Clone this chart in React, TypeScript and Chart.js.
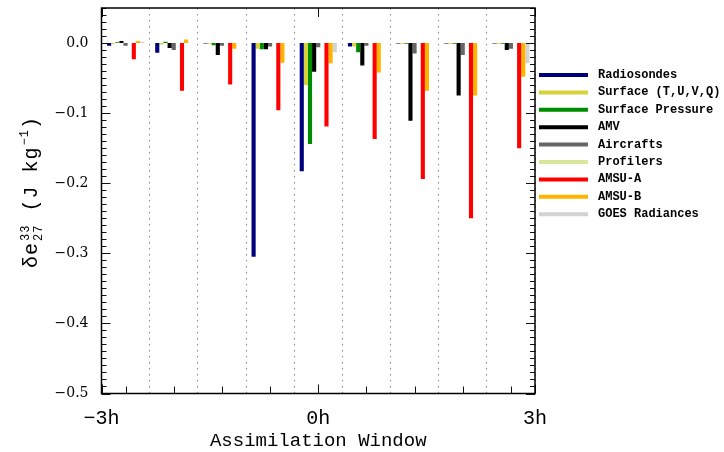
import React, { useEffect, useRef } from 'react';
import { Chart, registerables } from 'chart.js';

Chart.register(...registerables);

// ---------- data ----------
const GROUPS = ['1', '2', '3', '4', '5', '6', '7', '8', '9'];
const X_TICK_VALUES = [-3, 0, 3];
const Y_TICKS = [-0.5, -0.4, -0.3, -0.2, -0.1, 0];

const SERIES_NAMES = [
  'Radiosondes',
  'Surface (T,U,V,Q)',
  'Surface Pressure',
  'AMV',
  'Aircrafts',
  'Profilers',
  'AMSU-A',
  'AMSU-B',
  'GOES Radiances',
];
const SERIES_COLORS = [
  '#00007a',
  '#d6d23a',
  '#008c00',
  '#000000',
  '#666666',
  '#d8e79a',
  '#ff0000',
  '#ffb400',
  '#d3d3d3',
];

const radiosondes = [-0.004, -0.014, -0.0006, -0.305, -0.183, -0.005, -0.0006, -0.0006, -0.0006];
const surface = [-0.001, -0.002, -0.001, -0.008, -0.060, -0.005, -0.001, -0.001, -0.001];
const surfacePressure = [0.001, 0.002, -0.003, -0.009, -0.144, -0.013, -0.001, -0.001, -0.001];
const amv = [0.003, -0.007, -0.017, -0.009, -0.041, -0.032, -0.111, -0.075, -0.010];
const aircrafts = [-0.004, -0.010, -0.004, -0.005, -0.006, -0.004, -0.015, -0.017, -0.008];
const profilers = [0, 0, 0, 0, 0, 0, 0, 0, 0];
const amsuA = [-0.023, -0.068, -0.059, -0.096, -0.119, -0.137, -0.194, -0.250, -0.150];
const amsuB = [0.003, 0.005, -0.008, -0.028, -0.029, -0.042, -0.068, -0.075, -0.048];
const goes = [0.002, 0, 0, 0, -0.013, 0, 0, 0, -0.029];

const SERIES_VALUES = [radiosondes, surface, surfacePressure, amv, aircrafts, profilers, amsuA, amsuB, goes];

const MINUS = '\u2212';
const MONO = '"Liberation Mono", "DejaVu Sans Mono", monospace';
const SERIF = '"DejaVu Serif", serif';

// ---------- plugins ----------
const idlFrame = {
  id: 'idlFrame',
  afterDraw(chart: any) {
    const { ctx, chartArea: a, scales } = chart;
    const y = scales.y;
    const x = scales.x;
    const xt = scales.xt;
    const line = (x1: number, y1: number, x2: number, y2: number) => {
      ctx.beginPath();
      ctx.moveTo(x1, y1);
      ctx.lineTo(x2, y2);
      ctx.stroke();
    };
    ctx.save();
    ctx.strokeStyle = '#111';
    ctx.lineWidth = 1;
    // y ticks (major every 0.1, minor every 0.01), inward on both sides
    for (let k = -50; k <= 5; k++) {
      const py = Math.round(y.getPixelForValue(k / 100)) + 0.5;
      const len = k % 10 === 0 ? 9 : 5;
      line(a.left, py, a.left + len, py);
      line(a.right, py, a.right - len, py);
    }
    // bottom minor ticks at group centers
    GROUPS.forEach((_, i) => {
      const px = Math.round(x.getPixelForValue(i)) + 0.5;
      line(px, a.bottom, px, a.bottom - 7);
    });
    // major ticks
    X_TICK_VALUES.forEach((v) => {
      const px = Math.round(xt.getPixelForValue(v)) + 0.5;
      line(px, a.bottom, px, a.bottom - 9);
      line(px, a.top, px, a.top + 9);
    });
    ctx.lineWidth = 1.5;
    ctx.strokeStyle = '#000';
    ctx.strokeRect(a.left, a.top, a.right - a.left, a.bottom - a.top);
    ctx.restore();
  },
};

const idlLegend = {
  id: 'idlLegend',
  afterDraw(chart: any) {
    const { ctx, chartArea: a } = chart;
    ctx.save();
    const x0 = a.right + 4;
    const x1 = a.right + 53;
    const tx = a.right + 63;
    const y0 = 75;
    const dy = 17.4;
    chart.data.datasets.forEach((ds: any, i: number) => {
      const yy = y0 + i * dy;
      ctx.strokeStyle = ds.backgroundColor;
      ctx.lineWidth = 4;
      ctx.beginPath();
      ctx.moveTo(x0, yy);
      ctx.lineTo(x1, yy);
      ctx.stroke();
      ctx.fillStyle = '#000';
      ctx.font = `bold 12px ${MONO}`;
      ctx.textBaseline = 'middle';
      ctx.textAlign = 'left';
      ctx.fillText(ds.label, tx, yy);
    });
    ctx.restore();
  },
};

const yTitle = {
  id: 'yTitle',
  afterDraw(chart: any) {
    const { ctx } = chart;
    ctx.save();
    ctx.translate(37, 192);
    ctx.rotate(-Math.PI / 2);
    ctx.fillStyle = '#000';
    ctx.textBaseline = 'alphabetic';
    ctx.textAlign = 'left';
    try {
      (ctx as any).letterSpacing = '1px';
    } catch (e) {
      /* ignore */
    }
    const big = `20px ${MONO}`;
    const small = `12px ${MONO}`;
    ctx.font = big;
    const w1 = ctx.measureText('\u03b4e').width;
    const w3 = ctx.measureText(' (J kg').width;
    const w5 = ctx.measureText(')').width;
    ctx.font = small;
    const w2 = Math.max(ctx.measureText('33').width, ctx.measureText('27').width) + 1;
    const w4 = ctx.measureText(MINUS + '1').width + 1;
    const total = w1 + w2 + w3 + w4 + w5;
    let cx = -total / 2;
    ctx.font = big;
    ctx.fillText('\u03b4e', cx, 0);
    cx += w1;
    ctx.font = small;
    ctx.fillText('33', cx + 1, -8);
    ctx.fillText('27', cx + 1, 5);
    cx += w2;
    ctx.font = big;
    ctx.fillText(' (J kg', cx, 0);
    cx += w3;
    ctx.font = small;
    ctx.fillText(MINUS + '1', cx + 1, -9);
    cx += w4;
    ctx.font = big;
    ctx.fillText(')', cx, 0);
    ctx.restore();
  },
};

export default function App() {
  const ref = useRef<HTMLCanvasElement>(null);

  useEffect(() => {
    document.body.style.margin = '0';
    const canvas = ref.current;
    if (!canvas) return;
    const chart = new Chart(canvas, {
      type: 'bar',
      data: {
        labels: GROUPS,
        datasets: SERIES_NAMES.map((name, i) => ({
          label: name,
          data: SERIES_VALUES[i],
          backgroundColor: SERIES_COLORS[i],
          borderWidth: 0,
          categoryPercentage: 0.77,
          barPercentage: 1.0,
        })),
      },
      options: {
        animation: false,
        responsive: false,
        events: [],
        layout: { padding: { left: 0, top: 8, right: 189, bottom: 0 } },
        plugins: {
          legend: { display: false },
          tooltip: { enabled: false },
        },
        scales: {
          x: {
            type: 'category',
            position: 'bottom',
            ticks: { display: false },
            grid: {
              display: true,
              offset: true,
              drawTicks: false,
              color: '#8a8a8a',
              lineWidth: 1,
            },
            border: { display: false, dash: [1.5, 4.5] },
            afterFit: (s: any) => {
              s.height = 0;
              s.paddingLeft = 0;
              s.paddingRight = 0;
            },
          },
          xt: {
            type: 'linear',
            position: 'bottom',
            offset: false,
            min: -3,
            max: 3,
            afterBuildTicks: (s: any) => {
              s.ticks = X_TICK_VALUES.map((v) => ({ value: v }));
            },
            ticks: {
              autoSkip: false,
              maxRotation: 0,
              padding: 13,
              color: '#000',
              font: { family: MONO, size: 20 },
              callback: (v: any) => (Number(v) < 0 ? MINUS + Math.abs(Number(v)) : String(v)) + 'h',
            },
            grid: { display: false, drawTicks: false, offset: false },
            border: { display: false },
            title: {
              display: true,
              text: 'Assimilation Window',
              color: '#000',
              font: { family: MONO, size: 19 },
              padding: { top: 0, bottom: 0 },
            },
            afterFit: (s: any) => {
              s.height = 58.5;
              s.paddingLeft = 0;
              s.paddingRight = 0;
            },
          },
          y: {
            type: 'linear',
            min: -0.5,
            max: 0.05,
            afterBuildTicks: (s: any) => {
              s.ticks = Y_TICKS.map((v) => ({ value: v }));
            },
            ticks: {
              padding: 13,
              color: '#000',
              font: { family: SERIF, size: 14 },
              callback: (v: any) => {
                const n = Number(v);
                return Math.abs(n) < 1e-9 ? '0.0' : MINUS + Math.abs(n).toFixed(1);
              },
            },
            grid: { display: false, drawTicks: false },
            border: { display: false },
            afterFit: (s: any) => {
              s.width = 101.5;
              s.paddingTop = 0;
              s.paddingBottom = 0;
            },
          },
        },
      },
      plugins: [idlFrame, idlLegend, yTitle],
    } as any);
    return () => chart.destroy();
  }, []);

  return (
    <div style={{ width: 724, height: 452 }}>
      <canvas ref={ref} width={724} height={452} style={{ display: 'block' }} />
    </div>
  );
}
